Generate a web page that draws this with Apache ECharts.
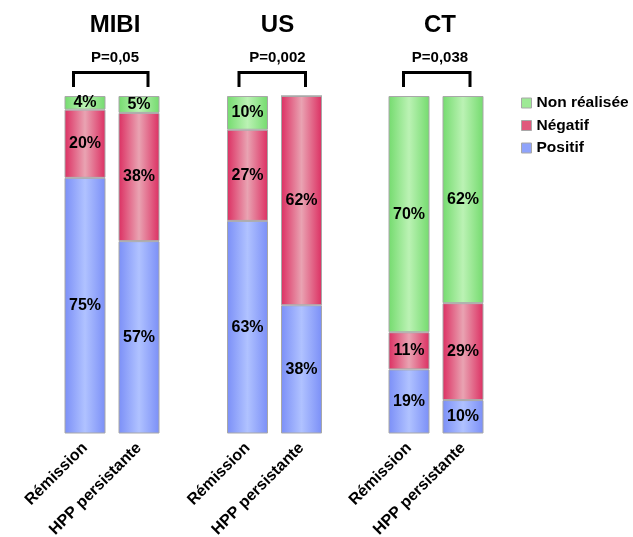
<!DOCTYPE html>
<html>
<head>
<meta charset="utf-8">
<script src="https://cdn.jsdelivr.net/npm/echarts@6/dist/echarts.min.js"></script>
<style>
  html, body { margin: 0; padding: 0; background: #fff; }
  #chart { width: 633px; height: 537px; }
</style>
</head>
<body>
<div id="chart"></div>
<script>
// data
var groups = ['MIBI', 'US', 'CT'];
var pValues = ['P=0,05', 'P=0,002', 'P=0,038'];
var categories = ['Rémission', 'HPP persistante'];
var positif = [[75, 57], [63, 38], [19, 10]];
var negatif = [[20, 38], [27, 62], [11, 29]];
var nonRealisee = [[4, 5], [10, 0], [70, 62]];

var font = 'Liberation Sans, Arial, sans-serif';
var gridLefts = [58, 220.5, 382];
var gridW = 108;
var titleX = [110, 272.5, 435];

function grad(edge, mid) {
    return new echarts.graphic.LinearGradient(0, 0, 1, 0, [
        { offset: 0, color: edge },
        { offset: 0.5, color: mid },
        { offset: 1, color: edge }
    ]);
}
var colors = {
    'Positif': grad('#7b8ff7', '#b0c2ff'),
    'Négatif': grad('#dc2f62', '#e9a3b2'),
    'Non réalisée': grad('#74db6e', '#bbf2b4')
};
var legendColors = { 'Positif': '#8fa3fb', 'Négatif': '#e0587c', 'Non réalisée': '#9ee996' };

var grids = [], xAxes = [], yAxes = [], series = [], titles = [], graphics = [];

groups.forEach(function (g, i) {
    grids.push({ left: gridLefts[i], width: gridW, top: 96, height: 337.5, outerBoundsMode: 'none', containLabel: false });
    xAxes.push({
        type: 'category', gridIndex: i, data: categories,
        axisLine: { show: false }, axisTick: { show: false },
        axisLabel: { rotate: 45, margin: 12, fontFamily: font, fontWeight: 'bold', fontSize: 16, color: '#000', interval: 0 }
    });
    yAxes.push({ type: 'value', gridIndex: i, min: 0, max: 100, show: false, splitLine: { show: false } });

    titles.push({ text: g, left: titleX[i], top: 8, textAlign: 'center',
        textStyle: { fontFamily: font, fontWeight: 'bold', fontSize: 24, color: '#000' } });
    titles.push({ text: pValues[i], left: titleX[i], top: 45, textAlign: 'center',
        textStyle: { fontFamily: font, fontWeight: 'bold', fontSize: 15, color: '#000' } });

    var totals = categories.map(function (c, j) {
        return positif[i][j] + negatif[i][j] + nonRealisee[i][j];
    });

    [['Positif', positif[i]], ['Négatif', negatif[i]], ['Non réalisée', nonRealisee[i]]].forEach(function (s) {
        series.push({
            name: s[0], type: 'bar', stack: 'g' + i,
            xAxisIndex: i, yAxisIndex: i, barWidth: 41,
            data: s[1].map(function (v, j) {
                return { value: v / totals[j] * 100, raw: v };
            }),
            itemStyle: { color: colors[s[0]], borderColor: '#a8a8a8', borderWidth: 1 },
            label: {
                show: true, position: 'inside', fontFamily: font, fontWeight: 'bold', fontSize: 16, color: '#000',
                formatter: function (p) { return p.data.raw ? p.data.raw + '%' : ''; }
            }
        });
    });
});

// brackets over each pair of bars
var brackets = [[73.5, 148], [239, 305.5], [403.5, 470]];
brackets.forEach(function (b) {
    graphics.push({
        type: 'polyline',
        shape: { points: [[b[0], 87], [b[0], 72.5], [b[1], 72.5], [b[1], 87]] },
        style: { stroke: '#000', lineWidth: 3, fill: null }
    });
});

var chart = echarts.init(document.getElementById('chart'));
chart.setOption({
    backgroundColor: '#fff',
    animation: false,
    title: titles,
    legend: {
        orient: 'vertical', left: 516, top: 90, itemGap: 6.5,
        itemWidth: 10, itemHeight: 10, icon: 'rect',
        data: ['Non réalisée', 'Négatif', 'Positif'].map(function (n) {
            return { name: n, itemStyle: { color: legendColors[n], borderColor: '#a8a8a8', borderWidth: 1 } };
        }),
        textStyle: { fontFamily: font, fontWeight: 'bold', fontSize: 15.5, color: '#000' }
    },
    grid: grids,
    xAxis: xAxes,
    yAxis: yAxes,
    series: series,
    graphic: graphics
});
</script>
</body>
</html>
